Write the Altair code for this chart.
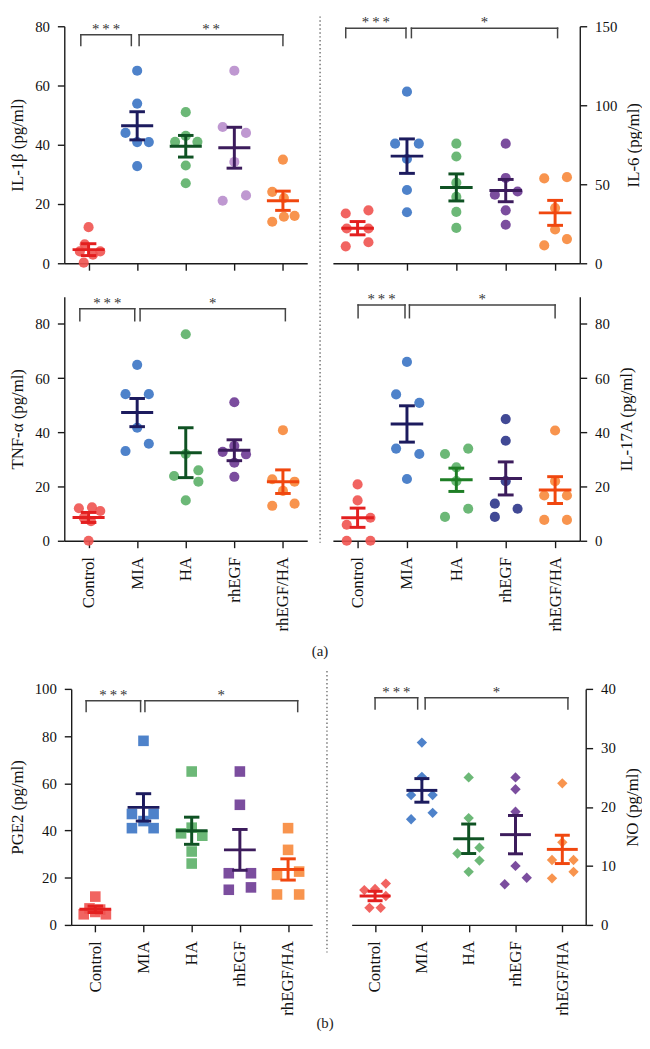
import altair as alt
import pandas as pd

FONT = "Liberation Serif"
groups = ["Control", "MIA", "HA", "rhEGF", "rhEGF/HA"]

S3 = "*\u2009*\u2009*"
S2 = "*\u2009*"
S1 = "*"

# ---------------- IL-1beta ----------------
il1b_vals = [
    [12.2, 6.4, 4.0, 4.0, 2.9, 0.2],
    [65.0, 53.9, 44.0, 40.9, 40.9, 32.8],
    [51.0, 41.0, 43.0, 41.0, 33.0, 27.0],
    [65.0, 46.0, 44.0, 34.2, 21.1, 22.9],
    [35.0, 24.1, 22.0, 14.0, 15.7, 16.0],
]
il1b_jit = [
    [0, -0.08, -0.18, 0.24, 0.09, -0.1],
    [0, 0, -0.24, 0, 0.24, 0],
    [0, -0.22, 0, 0.24, 0, 0],
    [0, -0.24, 0.24, 0, -0.24, 0.24],
    [0, -0.22, 0.02, -0.22, 0.02, 0.24],
]
il1b_mean = [4.6, 46.4, 39.5, 39.0, 21.1]
il1b_sem = [2.0, 4.75, 3.65, 6.9, 3.25]
il1b_brackets = [[-0.16, 0.88, 77.1, 73.5, S3], [1.04, 4.0, 77.1, 73.5, S2]]

# ---------------- IL-6 ----------------
il6_vals = [
    [31.5, 33.5, 22.0, 22.0, 13.3, 10.7],
    [108.6, 75.7, 75.7, 66.0, 46.4, 32.3],
    [75.7, 67.6, 51.0, 42.0, 32.5, 22.4],
    [75.7, 54.0, 43.4, 45.4, 33.5, 24.4],
    [53.7, 54.5, 35.0, 21.4, 11.3, 15.3],
]
il6_jit = [
    [-0.24, 0.22, -0.22, 0.22, 0.22, -0.24],
    [0, -0.24, 0.24, 0, 0, 0],
    [0, 0, 0, 0, 0, 0],
    [0, 0, -0.22, 0.24, 0, 0],
    [-0.22, 0.24, 0, 0, -0.22, 0.24],
]
il6_mean = [22.2, 67.8, 48.0, 46.0, 31.9]
il6_sem = [4.2, 10.9, 8.55, 7.05, 7.9]
il6_brackets = [[-0.24, 0.98, 148.8, 142.8, S3], [1.09, 4.05, 148.8, 142.8, S1]]

# ---------------- TNF-alpha ----------------
tnf_vals = [
    [12.0, 12.3, 11.0, 8.5, 7.2, 0.0],
    [64.9, 54.1, 54.1, 41.7, 33.1, 35.8],
    [76.2, 32.0, 23.9, 26.0, 21.8, 14.9],
    [51.1, 32.8, 31.9, 35.0, 28.8, 23.6],
    [40.8, 22.7, 21.8, 18.4, 12.9, 13.7],
]
tnf_jit = [
    [-0.2, 0.07, 0.24, -0.1, 0.05, 0],
    [0, -0.24, 0.24, 0, -0.24, 0.24],
    [0, 0, -0.24, 0.26, 0.26, 0],
    [0, -0.24, 0.24, 0, 0, 0],
    [0, -0.22, 0.24, 0, -0.22, 0.24],
]
tnf_mean = [8.6, 47.3, 32.5, 33.4, 21.8]
tnf_sem = [1.85, 5.2, 9.2, 3.85, 4.35]
tnf_brackets = [[-0.18, 0.95, 85.6, 81.2, S3], [1.06, 4.05, 85.6, 81.2, S1]]

# ---------------- IL-17A ----------------
il17_vals = [
    [20.8, 14.9, 8.5, 5.9, 0.0, 0.0],
    [66.0, 54.0, 50.9, 34.0, 32.0, 22.8],
    [32.0, 34.0, 27.1, 22.0, 8.8, 11.8],
    [44.9, 36.9, 22.0, 13.7, 11.8, 8.8],
    [40.7, 16.7, 16.7, 22.0, 7.7, 7.7],
]
il17_jit = [
    [0, 0, 0.26, -0.22, -0.22, 0.26],
    [0, -0.22, 0.25, -0.22, 0.25, 0],
    [-0.23, 0.24, 0, 0, -0.23, 0.24],
    [0, 0, 0, -0.22, 0.24, -0.22],
    [0, -0.22, 0.24, 0, -0.22, 0.24],
]
il17_mean = [8.5, 43.1, 22.5, 23.0, 18.7]
il17_sem = [3.55, 6.7, 4.3, 6.1, 4.95]
il17_brackets = [[0.01, 0.96, 87.0, 82.3, S3], [1.05, 4.0, 87.0, 82.3, S1]]

# ---------------- PGE2 ----------------
pge2_vals = [
    [12.0, 4.5, 4.5, 7.0, 6.5, 5.5],
    [78.0, 47.0, 47.0, 44.0, 41.0, 41.0],
    [65.0, 38.8, 37.8, 41.2, 31.1, 26.0],
    [65.0, 50.9, 21.9, 21.9, 14.9, 15.9],
    [41.0, 31.8, 21.2, 22.6, 12.9, 12.9],
]
pge2_jit = [
    [0, -0.24, 0.22, -0.12, 0.1, 0],
    [0, 0.21, -0.24, 0, -0.24, 0.21],
    [0, -0.22, 0.22, 0, 0, 0],
    [0, 0, -0.23, 0.23, -0.23, 0.23],
    [0, 0, -0.23, 0.23, -0.23, 0.23],
]
pge2_mean = [6.6, 49.8, 39.9, 31.8, 23.5]
pge2_sem = [1.35, 5.8, 5.75, 8.65, 4.5]
pge2_brackets = [[-0.19, 0.94, 95.0, 90.4, S3], [1.03, 4.2, 95.0, 90.4, S1]]

# ---------------- NO ----------------
no_vals = [
    [5.9, 7.0, 6.1, 2.9, 2.9, 4.9],
    [30.9, 25.1, 22.0, 22.0, 19.0, 17.9],
    [25.0, 18.1, 12.1, 13.1, 10.9, 9.0],
    [25.0, 23.0, 19.2, 10.0, 6.9, 8.0],
    [24.0, 14.0, 11.0, 11.0, 7.9, 9.0],
]
no_jit = [
    [-0.23, 0.23, 0, -0.12, 0.12, 0.23],
    [0, 0, -0.23, 0.23, 0.23, -0.23],
    [0, 0, -0.24, 0.23, 0.23, 0],
    [0, 0, 0, 0, -0.23, 0.24],
    [0, 0, -0.22, 0.24, -0.22, 0.24],
]
no_mean = [4.9, 22.8, 14.6, 15.3, 12.8]
no_sem = [0.8, 2.0, 2.5, 3.25, 2.4]
no_brackets = [[0.0, 0.91, 38.5, 36.6, S3], [1.07, 4.12, 38.5, 36.6, S1]]

# ---------------- styles ----------------
dot_colors = ["#ef5350", "#3b74c4", "#5cb068", "#6d3a94", "#f7883b"]
dot_colors_p1 = ["#ef5350", "#3b74c4", "#5cb068", "#b88dcc", "#f7883b"]
dot_colors_p4 = ["#ef5350", "#3b74c4", "#5cb068", "#2c3589", "#f7883b"]
bar_colors = ["#e31f1f", "#1c1b5e", "#0f5223", "#3c1c5c", "#f0470f"]
bar_colors_p4 = ["#e31f1f", "#1c1b5e", "#1e7e25", "#3c1c5c", "#f0470f"]
AXIS_COLOR = "#1a1a1a"
BRACKET_COLOR = "#444444"
STAR_COLOR = "#333333"

label_expr = "[" + ",".join("'" + g + "'" for g in groups) + "][datum.value]"


def vline(x, y1, y2):
    return alt.Chart(pd.DataFrame({"k": [0]})).mark_rule(
        color="#555", strokeWidth=1.2, strokeDash=[1.5, 2.5]
    ).encode(x=alt.value(x), y=alt.value(y1), y2=alt.value(y2))


def tag(text, x, y):
    return alt.Chart(pd.DataFrame({"t": [text]})).mark_text(
        font=FONT, fontSize=15, color="#222", baseline="middle"
    ).encode(x=alt.value(x), y=alt.value(y), text="t:N")


def make_panel(vals, jit, means, sems, brackets, ymax, ticks, title, orient,
               shape, size, dots, bars, width, height, x_range=None,
               show_labels=True, y_offset=0, extras=()):
    pts = pd.DataFrame([
        {"group": g, "idx": i, "off": o, "value": v, "c": dots[i]}
        for i, g in enumerate(groups) for v, o in zip(vals[i], jit[i])
    ])
    summ = pd.DataFrame({"group": groups, "idx": list(range(len(groups))),
                         "mean": means, "sem": sems, "c": bars})
    br = pd.DataFrame(brackets, columns=["xa", "xb", "ytop", "ybot", "label"])

    sargs = dict(domain=[-0.5, 4.5], nice=False, zero=False)
    if x_range is not None:
        sargs["range"] = x_range
    xscale = alt.Scale(**sargs)
    yscale = alt.Scale(domain=[0, ymax], nice=False, zero=True)
    xaxis = alt.Axis(values=list(range(5)), labelExpr=label_expr,
                     labels=show_labels, title=None, grid=False,
                     labelAngle=270, labelPadding=9, labelFontSize=17,
                     labelFlush=False, labelOverlap=False)
    yargs = dict(values=ticks, title=title, orient=orient, grid=False,
                 labelFlush=False, labelOverlap=False, offset=y_offset)
    if orient == "right":
        yargs.update(titleAngle=270, titleBaseline="top", titlePadding=9)
    else:
        yargs.update(titlePadding=8)
    yaxis = alt.Axis(**yargs)

    def X(f):
        return alt.X(f, type="quantitative", scale=xscale, axis=xaxis)

    def Y(f):
        return alt.Y(f, type="quantitative", scale=yscale, axis=yaxis)

    ccol = alt.Color("c:N", scale=None, legend=None)

    points = alt.Chart(pts).transform_calculate(
        xp="datum.idx + datum.off"
    ).mark_point(filled=True, shape=shape, size=size, opacity=0.9,
                 strokeWidth=0).encode(x=X("xp"), y=Y("value"), color=ccol)
    mean_l = alt.Chart(summ).transform_calculate(
        m1="datum.idx - 0.33", m2="datum.idx + 0.33"
    ).mark_rule(strokeWidth=3).encode(x=X("m1"), x2=alt.X2("m2"),
                                      y=Y("mean"), color=ccol)
    err = alt.Chart(summ).transform_calculate(
        lo="datum.mean - datum.sem", hi="datum.mean + datum.sem"
    ).mark_rule(strokeWidth=3).encode(x=X("idx"), y=Y("lo"),
                                      y2=alt.Y2("hi"), color=ccol)
    caps = alt.Chart(summ).transform_calculate(
        lo="datum.mean - datum.sem", hi="datum.mean + datum.sem",
        c1="datum.idx - 0.16", c2="datum.idx + 0.16"
    ).transform_fold(["lo", "hi"], as_=["end", "yv"]).mark_rule(
        strokeWidth=3).encode(x=X("c1"), x2=alt.X2("c2"),
                              y=Y("yv:Q"), color=ccol)
    bstyle = dict(color=BRACKET_COLOR, strokeWidth=1.5, strokeCap="square")
    bh = alt.Chart(br).mark_rule(**bstyle).encode(
        x=X("xa"), x2=alt.X2("xb"), y=Y("ytop"))
    bl = alt.Chart(br).mark_rule(**bstyle).encode(
        x=X("xa"), y=Y("ybot"), y2=alt.Y2("ytop"))
    brr = alt.Chart(br).mark_rule(**bstyle).encode(
        x=X("xb"), y=Y("ybot"), y2=alt.Y2("ytop"))
    stars = alt.Chart(br).transform_calculate(
        xm="(datum.xa + datum.xb) / 2"
    ).mark_text(font=FONT, fontSize=15, color=STAR_COLOR, dy=-1,
                baseline="alphabetic").encode(x=X("xm"), y=Y("ytop"),
                                              text="label:N")
    return alt.layer(points, mean_l, err, caps, bh, bl, brr, stars,
                     *extras).properties(width=width, height=height)


p1 = make_panel(il1b_vals, il1b_jit, il1b_mean, il1b_sem, il1b_brackets,
                80, [0, 20, 40, 60, 80], "IL-1β (pg/ml)", "left", "circle",
                105, dot_colors_p1, bar_colors, 239, 240, x_range=[-7, 239],
                show_labels=False, y_offset=7)
p2 = make_panel(il6_vals, il6_jit, il6_mean, il6_sem, il6_brackets,
                150, [0, 50, 100, 150], "IL-6 (pg/ml)", "right", "circle",
                105, dot_colors, bar_colors, 250, 240, show_labels=False,
                extras=[vline(-13, -10, 523)])
p3 = make_panel(tnf_vals, tnf_jit, tnf_mean, tnf_sem, tnf_brackets,
                90, [0, 20, 40, 60, 80], "TNF-α (pg/ml)", "left", "circle",
                105, dot_colors, bar_colors, 239, 247, x_range=[-7, 239],
                y_offset=7, extras=[tag("(a)", 252, 359)])
p4 = make_panel(il17_vals, il17_jit, il17_mean, il17_sem, il17_brackets,
                90, [0, 20, 40, 60, 80], "IL-17A (pg/ml)", "right", "circle",
                105, dot_colors_p4, bar_colors_p4, 250, 247)
p5 = make_panel(pge2_vals, pge2_jit, pge2_mean, pge2_sem, pge2_brackets,
                100, [0, 20, 40, 60, 80, 100], "PGE2 (pg/ml)", "left",
                "square", 115, dot_colors, bar_colors, 244, 239,
                extras=[tag("(b)", 257, 338)])
p6 = make_panel(no_vals, no_jit, no_mean, no_sem, no_brackets,
                40, [0, 10, 20, 30, 40], "NO (pg/ml)", "right", "diamond",
                110, dot_colors, bar_colors, 256, 239, x_range=[19, 256],
                extras=[vline(-6, -18, 267)])


def spacer():
    return alt.Chart(pd.DataFrame({"k": [0]})).mark_point(opacity=0).encode(
        x=alt.value(0), y=alt.value(0)).properties(width=10, height=82)


chart = alt.concat(
    p1, p2, p3, p4, spacer(), spacer(), p5, p6,
    columns=2, spacing={"row": 34, "column": 21}, bounds="flush"
).properties(padding=0).configure_view(stroke=None).configure_axis(
    domainColor=AXIS_COLOR, domainWidth=1.4, tickColor=AXIS_COLOR,
    tickWidth=1.4, tickSize=7, labelFont=FONT, labelFontSize=15,
    labelColor="#111", labelPadding=8, titleFont=FONT, titleFontSize=17,
    titleFontWeight="normal", titleColor="#111"
)

chart.save("out.html", embed_options={"renderer": "svg", "actions": False})
